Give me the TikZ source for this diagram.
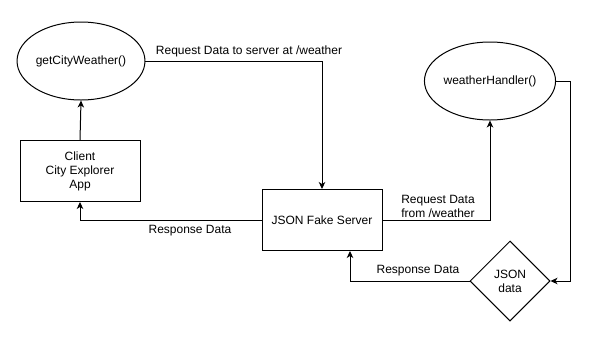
\documentclass[tikz,border=0pt]{standalone}
\usepackage{fontspec}
\setmainfont{Liberation Sans}
\usetikzlibrary{shapes.geometric,arrows.meta,positioning,calc}

\begin{document}
\begin{tikzpicture}[x=1pt,y=-1pt,
    font=\fontsize{12}{14}\selectfont,
    line width=1pt,
    func/.style={draw,ellipse,minimum width=120pt,minimum height=78pt,inner sep=0pt},
    block/.style={draw,rectangle,minimum width=120pt,minimum height=61pt,align=center,inner sep=0pt},
    datanode/.style={draw,diamond,aspect=1,minimum width=80pt,minimum height=80pt,align=center,inner sep=0pt},
    flow/.style={-{Stealth[length=7pt,width=6.5pt,inset=2pt]}},
    lbl/.style={align=left,inner sep=0pt}]
  \useasboundingbox (0,0) rectangle (599,341);

  % functions, boxes and the data store
  \node[func] (getWeather) at (81,61) {getCityWeather()};
  \node[block] (client) at (80,171) {Client\\City Explorer\\App};
  \node[block] (server) at (322,220) {JSON Fake Server};
  \node[func] (handler) at (490,81) {weatherHandler()};
  \node[datanode] (json) at (510,281) {JSON\\data};
  \coordinate (turn) at (570,81);

  % request / response flow
  \draw[flow] (client.north) -- (getWeather.south);
  \draw[flow] (getWeather.east) -| (server.north);
  \draw[flow] (server.west) -| (client.south);
  \draw[flow] (server.east) -| (handler.south);
  \draw[flow] (handler.east) -- (turn) |- (json.east);
  \draw[flow] (json.west) -| ([xshift=28pt]server.south);

  % labels on the lines
  \node[lbl] (reqLabel) at (249,51) {Request Data to server at /weather};
  \node[lbl] (respLabel) at (190,231) {Response Data};
  \node[lbl] (fromLabel) at (438,206) {Request Data\\from /weather};
  \node[lbl] (jsonRespLabel) at (418,271) {Response Data};
\end{tikzpicture}
\end{document}
